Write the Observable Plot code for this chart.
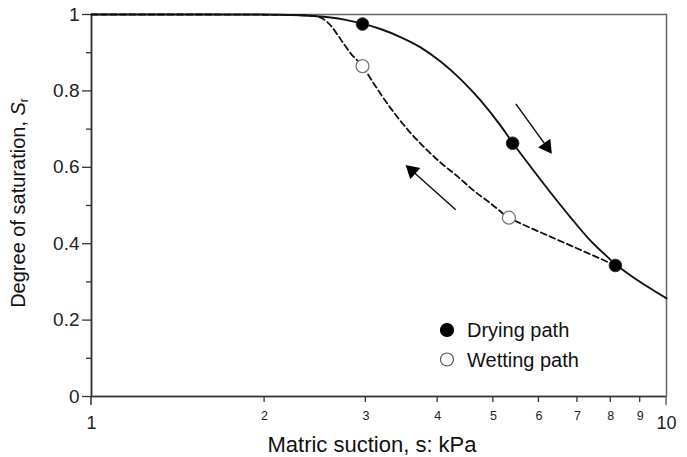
<!DOCTYPE html>
<html>
<head>
<meta charset="utf-8">
<script src="https://cdn.jsdelivr.net/npm/d3@7"></script>
<script src="https://cdn.jsdelivr.net/npm/@observablehq/plot@0.6"></script>
<style>
  html, body { margin: 0; padding: 0; background: #fff; }
  #chart svg { font-family: "Liberation Sans", Arial, sans-serif; }
</style>
</head>
<body>
<div id="chart"></div>
<script>
// ---- data ----
const dryX = [1.0, 1.548, 1.967, 2.309, 2.604, 2.765, 2.960, 3.181, 3.446, 3.735, 4.046, 4.383, 4.749, 5.145, 5.397, 5.800, 6.284, 6.808, 7.375, 7.833, 8.153, 8.660, 9.305, 10.0];
const dryY = [1.0, 1.0, 1.0, 0.998, 0.992, 0.986, 0.976, 0.962, 0.941, 0.914, 0.877, 0.831, 0.775, 0.709, 0.665, 0.602, 0.534, 0.469, 0.408, 0.370, 0.346, 0.317, 0.286, 0.257];
const wetX = [1.0, 1.5, 2.13, 2.41, 2.51, 2.61, 2.71, 2.82, 2.96, 3.10, 3.32, 3.55, 3.78, 4.05, 4.34, 4.62, 4.95, 5.32, 5.58, 6.29, 7.18, 8.15];
const wetY = [1.0, 1.0, 0.999, 0.997, 0.991, 0.970, 0.936, 0.899, 0.865, 0.818, 0.753, 0.698, 0.654, 0.612, 0.575, 0.539, 0.505, 0.468, 0.453, 0.418, 0.380, 0.343];
const dryPtX = [2.96, 5.40, 8.15];
const dryPtY = [0.975, 0.663, 0.343];
const wetPtX = [2.96, 5.32];
const wetPtY = [0.865, 0.468];
const arrowX1 = [5.47, 4.30];
const arrowY1 = [0.766, 0.489];
const arrowX2 = [6.19, 3.61];
const arrowY2 = [0.654, 0.591];
const xTicksSmall = [2, 3, 4, 5, 6, 7, 8, 9];
const xTicksBig = [1, 10];
const yTicksMajor = [0, 0.2, 0.4, 0.6, 0.8, 1];
const yTicksMinor = [0.1, 0.3, 0.5, 0.7, 0.9];
const xLabel = "Matric suction, s: kPa";
const yLabelMain = "Degree of saturation, ";
const legendLabels = ["Drying path", "Wetting path"];

const dry = dryX.map((x, i) => ({x, y: dryY[i]}));
const wet = wetX.map((x, i) => ({x, y: wetY[i]}));
const dryPts = dryPtX.map((x, i) => ({x, y: dryPtY[i]}));
const wetPts = wetPtX.map((x, i) => ({x, y: wetPtY[i]}));
const arrows = arrowX1.map((x1, i) => ({x1, y1: arrowY1[i], x2: arrowX2[i], y2: arrowY2[i]}));

const W = 687, H = 457;
const mT = 14, mB = 61;
const base = {
  width: W, height: H,
  marginLeft: 91, marginRight: 21, marginTop: mT, marginBottom: mB,
  x: {type: "log", domain: [1, 10], axis: null},
  y: {domain: [0, 1], axis: null},
  style: {fontFamily: "Liberation Sans, Arial, sans-serif", color: "#222", background: "#fff"}
};

// first pass to obtain pixel scales for arrowhead rotation
const probe = Plot.plot({...base, marks: [Plot.frame()]});
const sx = probe.scale("x"), sy = probe.scale("y");
arrows.forEach(a => {
  const dx = sx.apply(a.x2) - sx.apply(a.x1);
  const dy = sy.apply(a.y2) - sy.apply(a.y1);
  a.rot = Math.atan2(dx, -dy) * 180 / Math.PI;
});

const axisStroke = "#333";
const chart = Plot.plot({
  ...base,
  marks: [
    Plot.frame({stroke: "#666", strokeWidth: 1.5}),
    Plot.ruleX([1], {stroke: axisStroke, strokeWidth: 1.6}),
    Plot.ruleY([0], {stroke: axisStroke, strokeWidth: 1.6}),
    Plot.axisY(yTicksMajor, {tickSize: 9, tickPadding: 3, fontSize: 19, stroke: axisStroke, strokeWidth: 1.3,
      tickFormat: d => String(+d.toFixed(1)), label: null}),
    Plot.axisY(yTicksMinor, {tickSize: 5, stroke: axisStroke, strokeWidth: 1.3, tickFormat: () => "", label: null}),
    // x tick labels
    Plot.text(xTicksSmall, {x: d => d, frameAnchor: "bottom", dy: 19, fontSize: 12.5, lineAnchor: "middle", fill: "#222", text: d => String(d)}),
    Plot.text(xTicksBig, {x: d => d, frameAnchor: "bottom", dy: 27, fontSize: 18, lineAnchor: "middle", fill: "#222", text: d => String(d)}),
    Plot.text([xLabel], {frameAnchor: "bottom", dx: -7, dy: 48, fontSize: 22, lineAnchor: "middle", fill: "#111", text: d => d}),
    // curves
    Plot.line(wet, {x: "x", y: "y", curve: "monotone-x", stroke: "#111", strokeWidth: 1.8, strokeDasharray: "6,3.5"}),
    Plot.line(dry, {x: "x", y: "y", curve: "monotone-x", stroke: "#111", strokeWidth: 1.9}),
    // arrows
    Plot.link(arrows, {x1: "x1", y1: "y1", x2: "x2", y2: "y2", stroke: "#111", strokeWidth: 1.5}),
    Plot.dot(arrows, {x: "x2", y: "y2", symbol: "triangle", r: 5.6, fill: "#000", stroke: "none", rotate: "rot"}),
    // points
    Plot.dot(wetPts, {x: "x", y: "y", r: 6.5, fill: "#fff", stroke: "#777", strokeWidth: 1.3}),
    Plot.dot(dryPts, {x: "x", y: "y", r: 6.3, fill: "#000", stroke: "#333", strokeWidth: 1})
  ]
});

const svg = d3.select(chart);
const x = chart.scale("x"), y = chart.scale("y");
const y0 = y.apply(0);

// x ticks below the axis, and axis-line extensions at 1 and 10
const tg = svg.append("g").attr("stroke", axisStroke).attr("stroke-width", 1.3);
xTicksSmall.forEach(d => {
  tg.append("line").attr("x1", x.apply(d)).attr("x2", x.apply(d)).attr("y1", y0).attr("y2", y0 + 6);
});
xTicksBig.forEach((d, i) => {
  tg.append("line").attr("x1", x.apply(d)).attr("x2", x.apply(d)).attr("y1", y0).attr("y2", y0 + 9)
    .attr("stroke", i === 0 ? axisStroke : "#666").attr("stroke-width", 1.5);
});

// y label with italic S and subscript r
const yl = svg.append("text")
  .attr("transform", "translate(20,203) rotate(-90)")
  .attr("text-anchor", "middle")
  .attr("dominant-baseline", "middle")
  .attr("font-size", 20)
  .attr("fill", "#111");
yl.append("tspan").text(yLabelMain);
yl.append("tspan").attr("font-style", "italic").text("S");
yl.append("tspan").attr("font-size", 12).attr("dy", 5).text("r");

// legend inside plot area
const leg = svg.append("g").attr("transform", "translate(447,330)");
legendLabels.forEach((lab, i) => {
  const g = leg.append("g").attr("transform", `translate(0,${i * 29.5})`);
  g.append("circle").attr("r", 6.5)
    .attr("fill", i === 0 ? "#000" : "#fff")
    .attr("stroke", i === 0 ? "#000" : "#555").attr("stroke-width", 1.2);
  g.append("text").attr("x", 20).attr("dy", "0.35em")
    .attr("text-anchor", "start")
    .attr("font-size", 20).attr("fill", "#111").text(lab);
});

document.getElementById("chart").appendChild(chart);
</script>
</body>
</html>
